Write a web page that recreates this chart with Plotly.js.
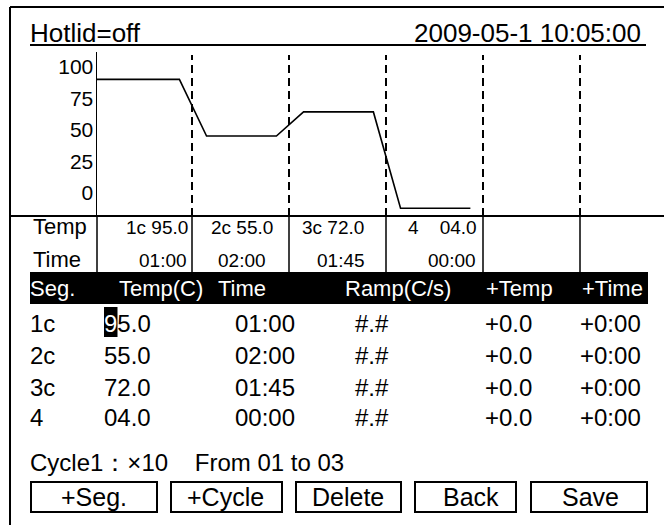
<!DOCTYPE html>
<html>
<head>
<meta charset="utf-8">
<script src="https://cdn.plot.ly/plotly-3.0.1.min.js"></script>
<style>
  html, body { margin: 0; padding: 0; background: #ffffff; }
  #chart { width: 664px; height: 525px; }
</style>
</head>
<body>
<div id="chart"></div>
<script>
// ---------------- data ----------------
const hotlidState = 'off';
const dateTime = '2009-05-1 10:05:00';
const segLabels = ['1c', '2c', '3c', '4'];
const segTemps = [95.0, 55.0, 72.0, 4.0];
const segTimes = ['01:00', '02:00', '01:45', '00:00'];
const segRamps = ['#.#', '#.#', '#.#', '#.#'];
const segPlusTemp = ['+0.0', '+0.0', '+0.0', '+0.0'];
const segPlusTime = ['+0:00', '+0:00', '+0:00', '+0:00'];
const yTickVals = [0, 25, 50, 75, 100];
const headerCols = ['Seg.', 'Temp(C)', 'Time', 'Ramp(C/s)', '+Temp', '+Time'];
const buttonLabels = ['+Seg.', '+Cycle', 'Delete', 'Back', 'Save'];
const cycleNo = 1;
const cycleRepeat = 10;
const cycleFrom = '01';
const cycleTo = '03';

// ---------------- layout / style ----------------
const W = 664, H = 525;
const PL = 97, PT = 52, PB = 216;           // plot area pixels
const PW = W - PL, PH = PB - PT;
const SLOT_PX = 97, SLOT_ORIGIN = 95;       // pixel mapping of segment index
const SLOTS = 6;
const RAMP_A = -0.13, RAMP_B = 0.15;
const FONT = 'Liberation Sans, Arial, sans-serif';
const BLACK = '#000000';

function px(x) { return (x - PL) / PW; }
function py(y) { return (PB - y) / PH; }

// temperature line
const lineX = [], lineY = [];
for (let i = 0; i < segTemps.length; i++) {
  lineX.push(i === 0 ? 0 : i + RAMP_B);
  lineY.push(segTemps[i]);
  lineX.push(i + 1 + RAMP_A);
  lineY.push(segTemps[i]);
}

const fmtTemp = t => t.toFixed(1).padStart(4, '0');

const shapes = [];
const annotations = [];
function hline(x0, x1, y, w) {
  shapes.push({type: 'line', xref: 'paper', yref: 'paper', x0: px(x0), x1: px(x1), y0: py(y), y1: py(y),
    line: {color: BLACK, width: w}});
}
function vline(x, y0, y1, w) {
  shapes.push({type: 'line', xref: 'paper', yref: 'paper', x0: px(x), x1: px(x), y0: py(y0), y1: py(y1),
    line: {color: BLACK, width: w}});
}
function rect(x0, x1, y0, y1, fill, lw) {
  shapes.push({type: 'rect', xref: 'paper', yref: 'paper', x0: px(x0), x1: px(x1), y0: py(y1), y1: py(y0),
    fillcolor: fill, line: {color: BLACK, width: lw}});
}
function text(t, x, y, anchor, size, color) {
  annotations.push({xref: 'paper', yref: 'paper', x: px(x), y: py(y), text: t, showarrow: false,
    xanchor: anchor, yanchor: 'middle', borderpad: 0, borderwidth: 0,
    font: {family: FONT, size: size, color: color || BLACK}});
}

// frame
hline(10, 664, 7, 2);
vline(10, 7, 525, 2);
// title row
text('Hotlid=' + hotlidState, 30, 33, 'left', 26);
text(dateTime, 641, 33, 'right', 26);
hline(30, 646, 45, 2);
// plot base line
hline(10, 664, 216, 2);

// segment boundaries (dashed inside the plot, solid in the table)
for (let i = 1; i < SLOTS; i++) {
  shapes.push({type: 'line', xref: 'x', yref: 'paper', x0: i, x1: i, y0: 0, y1: py(55),
    line: {color: BLACK, width: 2, dash: '8px,5px'}});
  const xp = SLOT_ORIGIN + SLOT_PX * i;
  vline(xp, 216, 272, 1.5);
}
vline(PL, 216, 272, 1.5);

// small cells
const cellTempRight = [188, 273, 364, 477];
const cellTimeRight = [187, 266, 365, 476];
text('Temp', 33, 226, 'left', 22);
text('Time', 33, 259, 'left', 22);
for (let i = 0; i < segLabels.length; i++) {
  const lab = segLabels[i].length < 2 ? segLabels[i] + '\u00A0\u00A0\u00A0' : segLabels[i];
  text(lab + ' ' + fmtTemp(segTemps[i]), cellTempRight[i], 227, 'right', 19);
  text(segTimes[i], cellTimeRight[i], 260, 'right', 19);
}

// header bar
rect(30, 648, 272, 304, BLACK, 0);
const headerX = [30, 119, 218, 345, 486, 582];
headerCols.forEach((h, i) => text(h, headerX[i], 288, 'left', 22, '#ffffff'));

// segment rows
const rowY = [323, 355, 387, 418];
const colX = [30, 104, 235, 355, 485, 580];
rect(104, 117.5, 307, 337, BLACK, 0);   // cursor
for (let i = 0; i < segLabels.length; i++) {
  const y = rowY[i];
  const tStr = fmtTemp(segTemps[i]);
  text(segLabels[i], colX[0], y, 'left', 24);
  text(i === 0 ? '<span style="color:#ffffff">' + tStr[0] + '</span>' + tStr.slice(1) : tStr, colX[1], y, 'left', 24);
  text(segTimes[i], colX[2], y, 'left', 24);
  text(segRamps[i], colX[3], y, 'left', 24);
  text(segPlusTemp[i], colX[4], y, 'left', 24);
  text(segPlusTime[i], colX[5], y, 'left', 24);
}

// cycle line
text('Cycle' + cycleNo + '\uFF1A\u00D7' + cycleRepeat + '\u00A0\u00A0\u00A0\u00A0From ' + cycleFrom + ' to ' + cycleTo,
     30, 463, 'left', 24);

// buttons
const btnX0 = [31, 171, 296, 415, 531];
const btnX1 = [157, 282, 401, 516, 647];
const btnTextX = [94, 225, 348, 471, 590];
buttonLabels.forEach((b, i) => {
  rect(btnX0[i], btnX1[i], 482, 512, 'rgba(0,0,0,0)', 2);
  text(b, btnTextX[i], 497, 'center', 25);
});

const traces = [
  {x: lineX, y: lineY, type: 'scatter', mode: 'lines', xaxis: 'x', yaxis: 'y',
   line: {color: BLACK, width: 1.6}, hoverinfo: 'skip', showlegend: false},
  {x: [null], y: [null], type: 'scatter', mode: 'lines', xaxis: 'x', yaxis: 'y2',
   hoverinfo: 'skip', showlegend: false}
];

const layout = {
  width: W, height: H,
  margin: {l: PL, r: 0, t: PT, b: H - PB, pad: 0},
  paper_bgcolor: '#ffffff', plot_bgcolor: '#ffffff',
  showlegend: false,
  xaxis: {range: [(PL - SLOT_ORIGIN) / SLOT_PX, (W - SLOT_ORIGIN) / SLOT_PX], showgrid: false, zeroline: false,
          showticklabels: false, ticks: '', showline: false, fixedrange: true},
  yaxis: {range: [-1.5, 114.3], showgrid: false, zeroline: false, showticklabels: false, ticks: '',
          showline: false, fixedrange: true},
  yaxis2: {overlaying: 'y', side: 'left', range: [-18.4, 111.6], tickvals: yTickVals,
           ticktext: yTickVals.map(String), showgrid: false, zeroline: false, ticks: '',
           ticklabelstandoff: -2,
           showline: true, linecolor: BLACK, linewidth: 1.5,
           tickfont: {family: FONT, size: 21, color: BLACK}, fixedrange: true},
  shapes: shapes,
  annotations: annotations
};

Plotly.newPlot('chart', traces, layout, {displayModeBar: false, staticPlot: true});
</script>
</body>
</html>
